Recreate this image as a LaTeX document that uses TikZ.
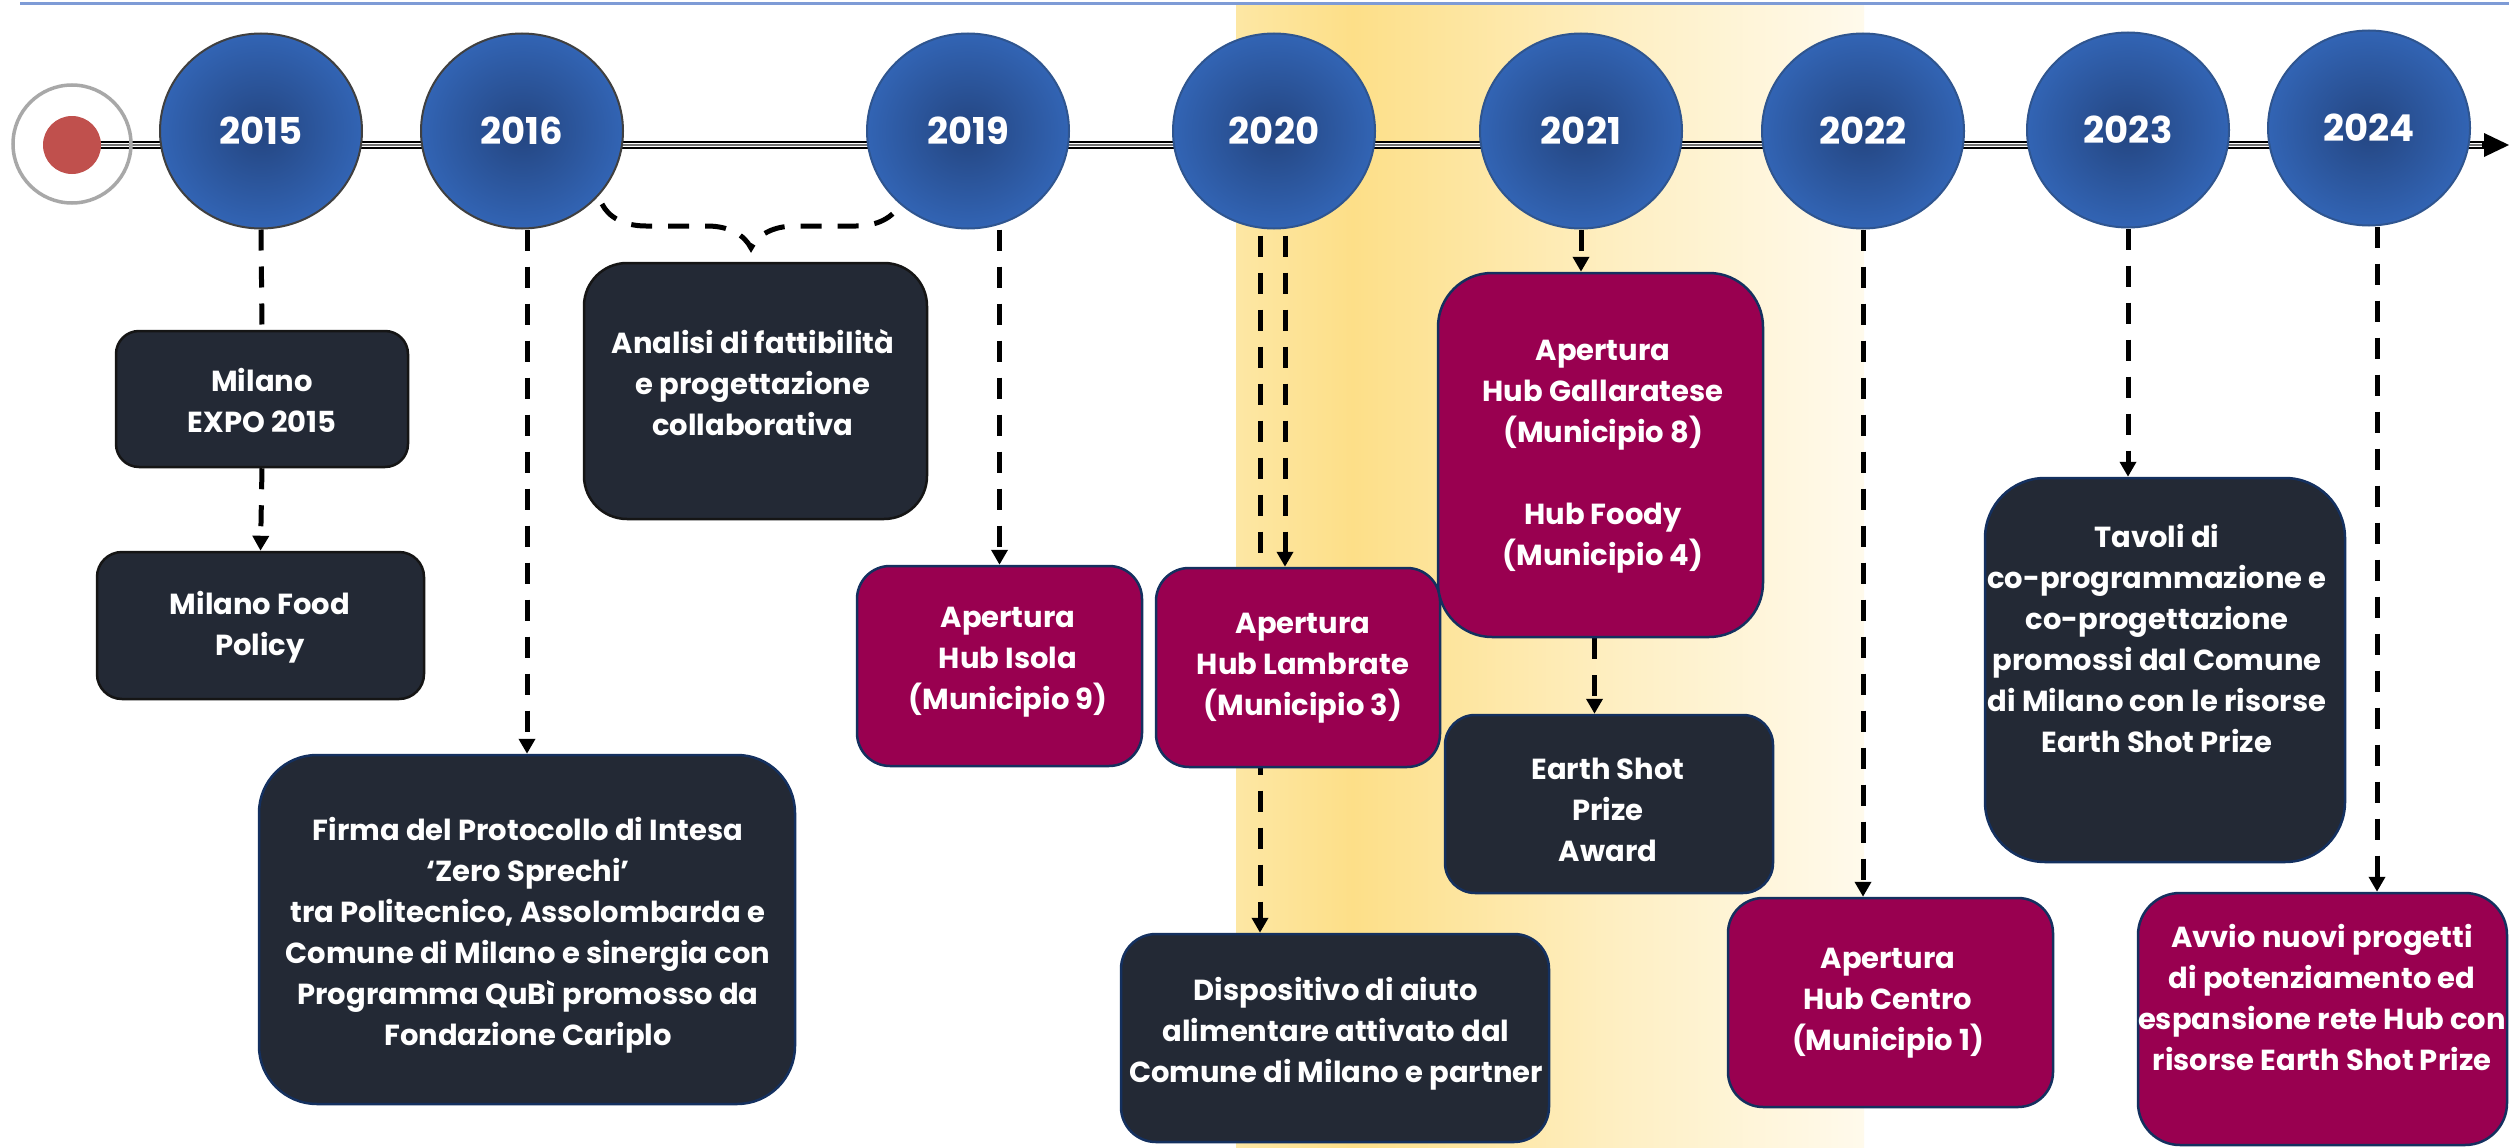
\documentclass[tikz,border=0pt]{standalone}
\usepackage{fontspec}
\setmainfont{Poppins}
\usetikzlibrary{shapes.geometric,arrows.meta,decorations.pathreplacing,calc}
\definecolor{darkbox}{HTML}{232935}
\definecolor{magbox}{HTML}{990050}
\definecolor{navyedge}{HTML}{14305F}
\definecolor{blackedge}{HTML}{151515}
\definecolor{circin}{HTML}{244580}
\definecolor{circout}{HTML}{3264B4}
\definecolor{circedge}{HTML}{2F558F}
\definecolor{yeargray}{HTML}{404040}
\definecolor{ringgray}{HTML}{A8A8A8}
\definecolor{dotred}{HTML}{C0504D}
\definecolor{topblue}{HTML}{7E9BD6}
\definecolor{bandA}{HTML}{FDE7A4}
\definecolor{bandB}{HTML}{FDDF88}
\definecolor{bandC}{HTML}{FEEFC3}
\definecolor{bandD}{HTML}{FFFAEC}
\pgfdeclarelayer{band}
\pgfdeclarelayer{bg}
\pgfsetlayers{band,bg,main}
\begin{document}
\begin{tikzpicture}[x=1pt,y=-1pt,
  yearc/.style={ellipse, minimum width=202pt, minimum height=195pt, inner sep=0pt,
    draw=circedge, line width=2pt, inner color=circin, outer color=circout,
    text=white, font=\fontsize{37}{40}\selectfont\bfseries},
  boxbase/.style={rectangle, inner sep=0pt, line width=2.5pt},
  darkb/.style={boxbase, fill=darkbox, draw=navyedge},
  magb/.style={boxbase, fill=magbox, draw=navyedge},
  txt/.style={text=white, align=center, inner sep=0pt,
    font=\fontsize{29}{41}\selectfont\bfseries},
  conn/.style={line width=5pt, dash pattern=on 21pt off 16pt},
  arr/.style={conn, -{Triangle[length=15pt,width=16pt]}}
]
\useasboundingbox (0,0) rectangle (2509,1148);

% background, highlight band and top rule
\begin{pgfonlayer}{band}
\fill[white] (0,0) rectangle (2509,1148);
\shade[left color=bandA, right color=bandB] (1236,6) rectangle (1353,1148);
\shade[left color=bandB, right color=bandC] (1352,6) rectangle (1621,1148);
\shade[left color=bandC, right color=bandD] (1620,6) rectangle (1864,1148);
\draw[topblue, line width=3pt] (20,4) -- (2509,4);
\end{pgfonlayer}

% start marker
\node[circle, draw=ringgray, line width=3.5pt, minimum size=118pt, inner sep=0pt] (ring) at (72,144) {};
\node[circle, fill=dotred, minimum size=58pt, inner sep=0pt] (dot) at (72,145) {};

% years
\node[yearc, draw=yeargray] (y2015) at (261,131) {2015};
\node[yearc, draw=yeargray] (y2016) at (522,131) {2016};
\node[yearc] (y2019) at (968,131) {2019};
\node[yearc] (y2020) at (1274,131) {2020};
\node[yearc] (y2021) at (1581,131) {2021};
\node[yearc] (y2022) at (1863,131) {2022};
\node[yearc] (y2023) at (2128,130) {2023};
\node[yearc] (y2024) at (2369,128) {2024};

% boxes
\node[darkb, draw=blackedge, minimum width=292pt, minimum height=136pt, rounded corners=23pt] (expo) at (262,399) {};
\node[darkb, draw=blackedge, minimum width=327pt, minimum height=147pt, rounded corners=25pt] (food) at (260.5,625.5) {};
\node[darkb, draw=blackedge, minimum width=343pt, minimum height=256pt, rounded corners=43pt] (analisi) at (755.5,391) {};
\node[darkb, minimum width=536pt, minimum height=349pt, rounded corners=58pt] (firma) at (527,929.5) {};
\node[magb, minimum width=285pt, minimum height=200pt, rounded corners=33pt] (isola) at (999.5,666) {};
\node[magb, minimum width=284pt, minimum height=199pt, rounded corners=33pt] (lamb) at (1298,667.5) {};
\node[darkb, minimum width=428pt, minimum height=208pt, rounded corners=35pt] (dispo) at (1335,1038) {};
\node[magb, minimum width=325pt, minimum height=364pt, rounded corners=54pt] (gall) at (1600.5,455) {};
\node[darkb, minimum width=328pt, minimum height=178pt, rounded corners=30pt] (earth) at (1609,804) {};
\node[magb, minimum width=325pt, minimum height=209pt, rounded corners=35pt] (centro) at (1890.5,1002.5) {};
\node[darkb, minimum width=360pt, minimum height=384pt, rounded corners=60pt] (tavoli) at (2165,670) {};
\node[magb, minimum width=369pt, minimum height=252pt, rounded corners=42pt] (avvio) at (2322.5,1019) {};

% texts
\node[txt] (expoT) at (262,400) {Milano\\EXPO 2015};
\node[txt] (foodT) at (260,627) {Milano Food\\Policy};
\node[txt] (analisiT) at (753,383) {Analisi di fattibilità\\e progettazione\\collaborativa};
\node[txt] (firmaT) at (528,935) {Firma del Protocollo di Intesa\\‘Zero Sprechi’\\tra Politecnico, Assolombarda e\\Comune di Milano e sinergia con\\Programma QuBì promosso da\\Fondazione Cariplo};
\node[txt] (isolaT) at (1008,662) {Apertura\\Hub Isola\\(Municipio 9)};
\node[txt] (lambT) at (1303,668) {Apertura\\Hub Lambrate\\(Municipio 3)};
\node[txt] (dispoT) at (1336,1034) {Dispositivo di aiuto\\alimentare attivato dal\\Comune di Milano e partner};
\node[txt] (gallT) at (1603,457) {Apertura\\Hub Gallaratese\\(Municipio 8)\\[41pt]Hub Foody\\(Municipio 4)};
\node[txt] (earthT) at (1608,810) {Earth Shot\\Prize\\Award};
\node[txt] (centroT) at (1888,1003) {Apertura\\Hub Centro\\(Municipio 1)};
\node[txt] (tavoliT) at (2157,638) {Tavoli di\\co-programmazione e\\co-progettazione\\promossi dal Comune\\di Milano con le risorse\\Earth Shot Prize};
\node[txt] (avvioT) at (2322,997) {Avvio nuovi progetti\\di potenziamento ed\\espansione rete Hub con\\risorse Earth Shot Prize};

% timeline and connectors
\begin{pgfonlayer}{bg}
\coordinate (tlend) at (2509,145);
\coordinate (tlbase) at (2484,145);
\draw[line width=8pt] (dot.center) -- (tlbase);
\draw[line width=4.5pt, white] (dot.center) -- (2482,145);
\draw[line width=1.6pt, black!55] (dot.center) -- (2482,145);
\fill (tlend) -- ($(tlbase)+(0,-12)$) -- ($(tlbase)+(0,12)$) -- cycle;

\draw[conn] (y2015.south) -- (expo.north);
\draw[arr] (expo.south) -- (food.north);
\draw[arr] (firma.north |- y2016.south) -- (firma.north);
\coordinate (braceL) at (602,204);
\coordinate (braceR) at (900,204);
\draw[conn, decorate, decoration={brace, mirror, amplitude=44pt, aspect=0.5}] (braceL) -- (braceR);
\draw[arr] (isola.north |- y2019.south) -- (isola.north);
\coordinate (c20a) at ($(y2020.south)+(-14,6)$);
\coordinate (c20b) at ($(y2020.south)+(11,6)$);
\draw[arr] (c20a) -- (c20a |- dispo.north);
\draw[arr] (c20b) -- (c20b |- lamb.north);
\draw[arr] (y2021.south) -- (y2021.south |- gall.north);
\draw[arr] ([xshift=-6pt]gall.south) -- ([xshift=-6pt]gall.south |- earth.north);
\draw[arr] (y2022.south) -- (y2022.south |- centro.north);
\draw[arr] (y2023.south) -- (y2023.south |- tavoli.north);
\draw[arr] ([xshift=8pt]y2024.south) -- ([xshift=8pt]y2024.south |- avvio.north);
\end{pgfonlayer}
\end{tikzpicture}
\end{document}
